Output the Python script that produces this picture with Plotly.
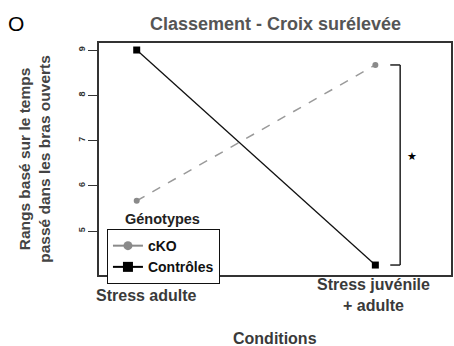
import plotly.graph_objects as go

# Conditions (x categories) and mean ranks per genotype
conditions = ["Stress adulte", "Stress juvénile<br>+ adulte"]
condition_pos = [0, 1]
cko_ranks = [5.67, 8.67]
controles_ranks = [9.0, 4.25]
y_ticks = [5, 6, 7, 8, 9]

TXT = "#3a3a3a"
FONT = "Liberation Sans, Arial, sans-serif"

fig = go.Figure()

# Data lines
fig.add_trace(go.Scatter(
    x=condition_pos, y=cko_ranks, mode="lines+markers", name="cKO",
    line=dict(color="#9a9a9a", width=1.5, dash="dash"),
    marker=dict(symbol="circle", size=6, color="#8a8a8a"),
    showlegend=False))
fig.add_trace(go.Scatter(
    x=condition_pos, y=controles_ranks, mode="lines+markers", name="Contrôles",
    line=dict(color="#111111", width=1.3),
    marker=dict(symbol="square", size=7, color="#000000"),
    showlegend=False))

# Legend keys (solid lines)
fig.add_trace(go.Scatter(
    x=[None], y=[None], mode="lines+markers", name="<b>cKO</b>",
    line=dict(color="#8a8a8a", width=2),
    marker=dict(symbol="circle", size=9, color="#8a8a8a")))
fig.add_trace(go.Scatter(
    x=[None], y=[None], mode="lines+markers", name="<b>Contrôles</b>",
    line=dict(color="#000000", width=2),
    marker=dict(symbol="square", size=10, color="#000000")))

# Significance bracket between the two groups at the second condition
bx, btick = 1.104, 1.0625
shapes = [
    dict(type="line", xref="x", yref="y", x0=bx, x1=bx,
         y0=controles_ranks[1], y1=cko_ranks[1], line=dict(color="#222", width=1.5)),
    dict(type="line", xref="x", yref="y", x0=btick, x1=bx,
         y0=cko_ranks[1], y1=cko_ranks[1], line=dict(color="#222", width=1.5)),
    dict(type="line", xref="x", yref="y", x0=btick, x1=bx,
         y0=controles_ranks[1], y1=controles_ranks[1], line=dict(color="#222", width=1.5)),
]

annotations = [
    dict(text="★", x=1.154, y=6.65, xref="x", yref="y", showarrow=False,
         font=dict(size=11, color="#000", family="DejaVu Sans")),
    dict(text="<b>Classement - Croix surélevée</b>", x=0.5, y=1.08, xref="paper",
         yref="paper", xanchor="center", yanchor="middle", showarrow=False,
         font=dict(size=18, color="#555555", family=FONT)),
    dict(text="O", x=-0.237, y=1.085, xref="paper", yref="paper", xanchor="center",
         yanchor="middle", showarrow=False, font=dict(size=21, color="#000", family=FONT)),
    dict(text="<b>Génotypes</b>", x=0.069, y=0.24, xref="paper", yref="paper",
         xanchor="left", yanchor="middle", showarrow=False,
         font=dict(size=14.5, color="#222", family=FONT)),
    dict(text="<b>Conditions</b>", x=0.5, y=0, xref="paper", yref="paper",
         yshift=-63, xanchor="center", yanchor="middle", showarrow=False,
         font=dict(size=16, color=TXT, family=FONT)),
]
# Category labels under the plot box
label_shift = [10, -2]
for c, pos, sh in zip(conditions, condition_pos, label_shift):
    annotations.append(dict(text=f"<b>{c}</b>", x=pos, y=0, xref="x", yref="paper",
                            xshift=sh, yshift=-20, xanchor="center", yanchor="middle",
                            showarrow=False, align="center",
                            font=dict(size=16, color=TXT, family=FONT)))

fig.update_layout(
    width=454, height=346,
    margin=dict(l=99, r=1, t=43, b=71),
    paper_bgcolor="white", plot_bgcolor="white",
    font=dict(family=FONT, color=TXT),
    shapes=shapes, annotations=annotations,
    legend=dict(x=0.0226, y=0.198, xanchor="left", yanchor="top",
                bordercolor="#111", borderwidth=1, bgcolor="white",
                font=dict(size=14, color="#111", family=FONT),
                itemwidth=30, tracegroupgap=0, traceorder="normal"),
    xaxis=dict(range=[-0.158, 1.317], showticklabels=False, ticks="",
               showgrid=False, zeroline=False, showline=True, mirror=True,
               linecolor="#333", linewidth=1.5),
    yaxis=dict(range=[4.03, 9.155], tickvals=y_ticks, ticktext=[f"<b>{v}</b>" for v in y_ticks],
               tickangle=-90, ticks="outside", ticklen=9, tickcolor="#333",
               tickfont=dict(size=9, color="#333"),
               showgrid=False, zeroline=False, showline=True, mirror=True,
               linecolor="#333", linewidth=1.5,
               title=dict(text="<b>Rangs basé sur le temps<br>passé dans les bras ouverts</b>",
                          standoff=22, font=dict(size=15.5, color="#444"))),
)

fig.write_html("out.html")
